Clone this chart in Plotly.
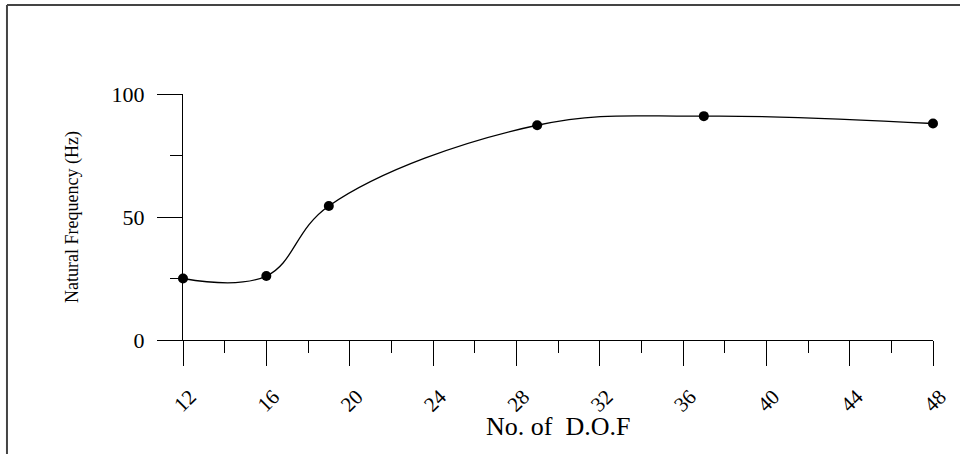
import plotly.graph_objects as go

dof = [12, 16, 19, 29, 37, 48]
freq = [25, 26, 54.5, 87.3, 91, 88]
x_ticks = [12, 16, 20, 24, 28, 32, 36, 40, 44, 48]
y_ticks = [0, 50, 100]

FONT = "Liberation Serif, Times New Roman, serif"

fig = go.Figure()
fig.add_trace(go.Scatter(
    x=dof, y=freq, mode="lines+markers",
    line=dict(color="black", width=1.3, shape="spline", smoothing=1.1),
    marker=dict(color="black", size=10),
    showlegend=False, cliponaxis=False,
))

fig.update_layout(
    width=960, height=454,
    margin=dict(l=183, r=27, t=94, b=114),
    paper_bgcolor="white", plot_bgcolor="white",
    font=dict(family=FONT, color="black"),
    xaxis=dict(
        range=[12, 48], tickvals=x_ticks, ticktext=[str(v) for v in x_ticks],
        showline=True, linecolor="black", linewidth=1.3,
        ticks="outside", ticklen=25, tickcolor="black", tickwidth=1.3,
        minor=dict(dtick=2, tick0=12, ticks="outside", ticklen=12, tickcolor="black", tickwidth=1.3, showgrid=False),
        tickangle=-45, tickfont=dict(size=21, family=FONT),
        ticklabelstandoff=10, ticklabelshift=7,
        showgrid=False, zeroline=False, automargin=False,
    ),
    yaxis=dict(
        range=[0, 100], tickvals=y_ticks,
        showline=True, linecolor="black", linewidth=1.3,
        ticks="outside", ticklen=25, tickcolor="black", tickwidth=1.3,
        minor=dict(dtick=25, tick0=0, ticks="outside", ticklen=12, tickcolor="black", tickwidth=1.3, showgrid=False),
        tickfont=dict(size=22, family=FONT), ticklabelstandoff=8,
        showgrid=False, zeroline=False, automargin=False,
        title=dict(text="Natural Frequency (Hz)", font=dict(size=18, family=FONT), standoff=28),
    ),
    annotations=[
        dict(text="No. of  D.O.F", xref="paper", yref="paper", x=0.5, y=-0.353,
             xanchor="center", yanchor="middle", showarrow=False,
             font=dict(size=26, family=FONT, color="black")),
    ],
    shapes=[
        dict(type="line", xref="paper", yref="paper", x0=-0.2347, x1=1.2, y0=1.3618, y1=1.3618,
             line=dict(color="#444444", width=2)),
        dict(type="line", xref="paper", yref="paper", x0=-0.2347, x1=-0.2347, y0=1.3618, y1=-0.6,
             line=dict(color="#444444", width=2)),
    ],
)

fig.write_html("out.html")
